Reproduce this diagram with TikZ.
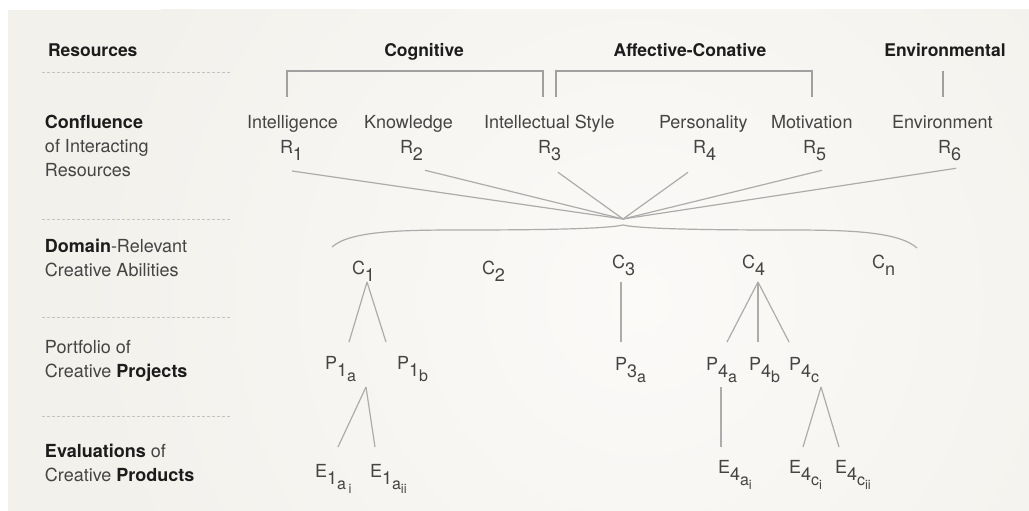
\documentclass[tikz,border=0pt]{standalone}
\usepackage{fontspec}
\setmainfont{TeX Gyre Heros}
\usetikzlibrary{calc}
\definecolor{panel}{RGB}{243,241,236}
\definecolor{panellight}{RGB}{251,250,248}
\definecolor{txt}{RGB}{68,68,68}
\definecolor{bld}{RGB}{28,28,28}
\definecolor{lin}{RGB}{172,172,172}
\definecolor{brk}{RGB}{160,160,160}
\definecolor{dsh}{RGB}{195,195,195}
\newcommand\lowa[1]{\raisebox{-7pt}{#1}}
\newcommand\lowb[1]{\raisebox{-5pt}{\fontsize{16}{16}\selectfont #1}}
\newcommand\lowc[1]{\raisebox{-4pt}{\fontsize{13}{13}\selectfont #1}}
\begin{document}
\begin{tikzpicture}[x=1pt,y=-1pt,
  every node/.style={inner sep=0pt, outer sep=0pt, text=txt, font=\fontsize{18}{22}\selectfont},
  lbl/.style={anchor=base west},
  hdr/.style={anchor=base, text=bld, font=\fontsize{17.5}{21}\selectfont\bfseries},
  lhd/.style={anchor=base west, text=bld, font=\fontsize{17.5}{21}\selectfont\bfseries},
  conn/.style={draw=lin, line width=1.2pt},
  brack/.style={draw=brk, line width=2pt},
  sepline/.style={draw=dsh, line width=0.9pt, dash pattern=on 3pt off 2pt}]
\useasboundingbox (0,0) rectangle (1029,511);
% background panel
\begin{scope}
\clip (8,10) rectangle (1029,511);
\fill[panel] (8,10) rectangle (1029,511);
\shade[inner color=panellight, outer color=panel] (640,300) circle (560);
\end{scope}
% separators
\foreach \yy in {72,219,317,416} \draw[sepline] (42,\yy) -- (232,\yy);
% left column
\node[lhd] (resH) at (48,56.5) {Resources};
\node[lbl] (conf1) at (45,128.5) {\textbf{\color{bld}Confluence}};
\node[lbl] (conf2) at (45,152) {of Interacting};
\node[lbl] (conf3) at (45,176) {Resources};
\node[lbl] (dom1) at (45,252.5) {\textbf{\color{bld}Domain}-Relevant};
\node[lbl] (dom2) at (45,276.5) {Creative Abilities};
\node[lbl] (port1) at (45,353) {Portfolio of};
\node[lbl] (port2) at (45,377) {Creative \textbf{\color{bld}Projects}};
\node[lbl] (eval1) at (45,457) {\textbf{\color{bld}Evaluations} of};
\node[lbl] (eval2) at (45,481) {Creative \textbf{\color{bld}Products}};
% headers
\node[hdr] (cog) at (424,56.5) {Cognitive};
\node[hdr] (aff) at (690,56.5) {Affective-Conative};
\node[hdr] (env) at (945,56.5) {Environmental};
% brackets
\draw[brack] (287,97) -- (287,71) -- (543,71) -- (543,97);
\draw[brack] (556,97) -- (556,71) -- (812,71) -- (812,97);
\draw[brack] (943,71) -- (943,97);
% resources
\node[lbl] (n1) at (247,128.5) {Intelligence};
\node[lbl] (n2) at (364,128.5) {Knowledge};
\node[lbl] (n3) at (484,128.5) {Intellectual Style};
\node[lbl] (n4) at (659,128.5) {Personality};
\node[lbl] (n5) at (771,128.5) {Motivation};
\node[lbl] (n6) at (892,128.5) {Environment};
\node[lbl] (R1) at (280,153.3) {R\lowa{1}};
\node[lbl] (R2) at (400,153.3) {R\lowa{2}};
\node[lbl] (R3) at (538,153.3) {R\lowa{3}};
\node[lbl] (R4) at (693,153.3) {R\lowa{4}};
\node[lbl] (R5) at (803,153.3) {R\lowa{5}};
\node[lbl] (R6) at (938,153.3) {R\lowa{6}};
\coordinate (conv) at (623,219);
\draw[conn] ($(R1.base west)+(12,17.7)$) -- (conv);
\draw[conn] ($(R2.base west)+(25,17)$) -- (conv);
\draw[conn] ($(R3.base west)+(20,19)$) -- (conv);
\draw[conn] ($(R4.base west)+(-5,19)$) -- (conv);
\draw[conn] ($(R5.base west)+(19,17)$) -- (conv);
\draw[conn] ($(R6.base west)+(18,15)$) -- (conv);
% brace
\draw[conn] (332,247) .. controls (350,231) and (400,230) .. (460,230)
  .. controls (540,230) and (605,229) .. (623,225)
  .. controls (641,229) and (706,230) .. (786,230)
  .. controls (846,230) and (898,231) .. (917,248);
% abilities
\node[lbl] (C1) at (352,274.5) {C\lowa{1}};
\node[lbl] (C2) at (482,274) {C\lowa{2}};
\node[lbl] (C3) at (612,268.5) {C\lowa{3}};
\node[lbl] (C4) at (742,268.5) {C\lowa{4}};
\node[lbl] (Cn) at (872,268.5) {C\lowa{n}};
% projects
\node[lbl] (P1a) at (325,369) {P\lowa{1\lowb{a}}};
\node[lbl] (P1b) at (397,369) {P\lowa{1\lowb{b}}};
\node[lbl] (P3a) at (615,370) {P\lowa{3\lowb{a}}};
\node[lbl] (P4a) at (706,370) {P\lowa{4\lowb{a}}};
\node[lbl] (P4b) at (749,370) {P\lowa{4\lowb{b}}};
\node[lbl] (P4c) at (789,370) {P\lowa{4\lowb{c}}};
% evaluations
\node[lbl] (E1ai) at (315,477) {E\lowa{1\lowb{a\,\lowc{i}}}};
\node[lbl] (E1aii) at (370,477) {E\lowa{1\lowb{a\lowc{ii}}}};
\node[lbl] (E4ai) at (718,473) {E\lowa{4\lowb{a\lowc{i}}}};
\node[lbl] (E4ci) at (789,473) {E\lowa{4\lowb{c\lowc{i}}}};
\node[lbl] (E4cii) at (835,473) {E\lowa{4\lowb{c\lowc{ii}}}};
% tree connectors
\draw[conn] ($(C1.base west)+(15,7.5)$) -- ($(P1a.base west)+(24,-27)$);
\draw[conn] ($(C1.base west)+(15,7.5)$) -- ($(P1b.base west)+(-11,-27)$);
\draw[conn] ($(P1a.base west)+(41,18)$) -- ($(E1ai.base west)+(23,-30)$);
\draw[conn] ($(P1a.base west)+(41,18)$) -- ($(E1aii.base west)+(5,-30)$);
\draw[conn] ($(C3.base west)+(9,13.5)$) -- ($(P3a.base west)+(6,-28)$);
\draw[conn] ($(C4.base west)+(16,13.5)$) -- ($(P4a.base west)+(21,-28)$);
\draw[conn] ($(C4.base west)+(16,13.5)$) -- ($(P4b.base west)+(9,-28)$);
\draw[conn] ($(C4.base west)+(16,13.5)$) -- ($(P4c.base west)+(0,-28)$);
\draw[conn] ($(P4a.base west)+(15,17)$) -- ($(E4ai.base west)+(3,-26)$);
\draw[conn] ($(P4c.base west)+(32,17)$) -- ($(E4ci.base west)+(14,-26)$);
\draw[conn] ($(P4c.base west)+(32,17)$) -- ($(E4cii.base west)+(4,-26)$);
\end{tikzpicture}
\end{document}
